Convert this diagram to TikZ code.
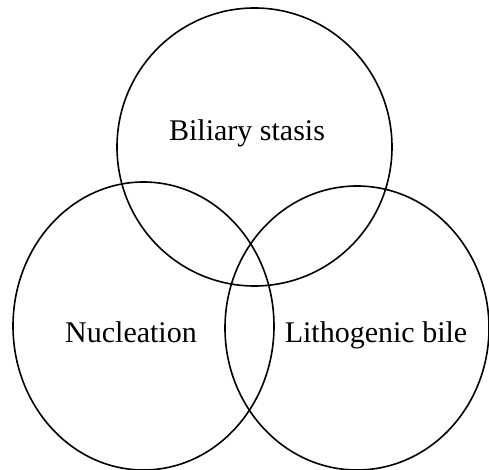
\documentclass[tikz,border=0pt]{standalone}
\usepackage{fontspec}
\setmainfont{Liberation Serif}
\usetikzlibrary{shapes.geometric}

\begin{document}
\begin{tikzpicture}[x=1pt, y=1pt, every node/.style={font=\fontsize{30}{36}\selectfont},
            setring/.style={draw, ellipse, line width=1.6pt, inner sep=0pt}]
            % frame
            \useasboundingbox (0,0) rectangle (489,470);

            % sets
            \node[setring, minimum width=275pt, minimum height=278pt] (stasis) at (254.5,323) {};
            \node[setring, minimum width=261pt, minimum height=288pt] (nucleation) at (143.5,144) {};
            \node[setring, minimum width=264pt, minimum height=284pt] (bile) at (357,142) {};

            % labels
            \node[anchor=base] (stasislabel) at (247,329) {Biliary stasis};
            \node[anchor=base] (nucleationlabel) at (131,127) {Nucleation};
            \node[anchor=base] (bilelabel) at (376,127) {Lithogenic bile};
        \end{tikzpicture}
\end{document}
